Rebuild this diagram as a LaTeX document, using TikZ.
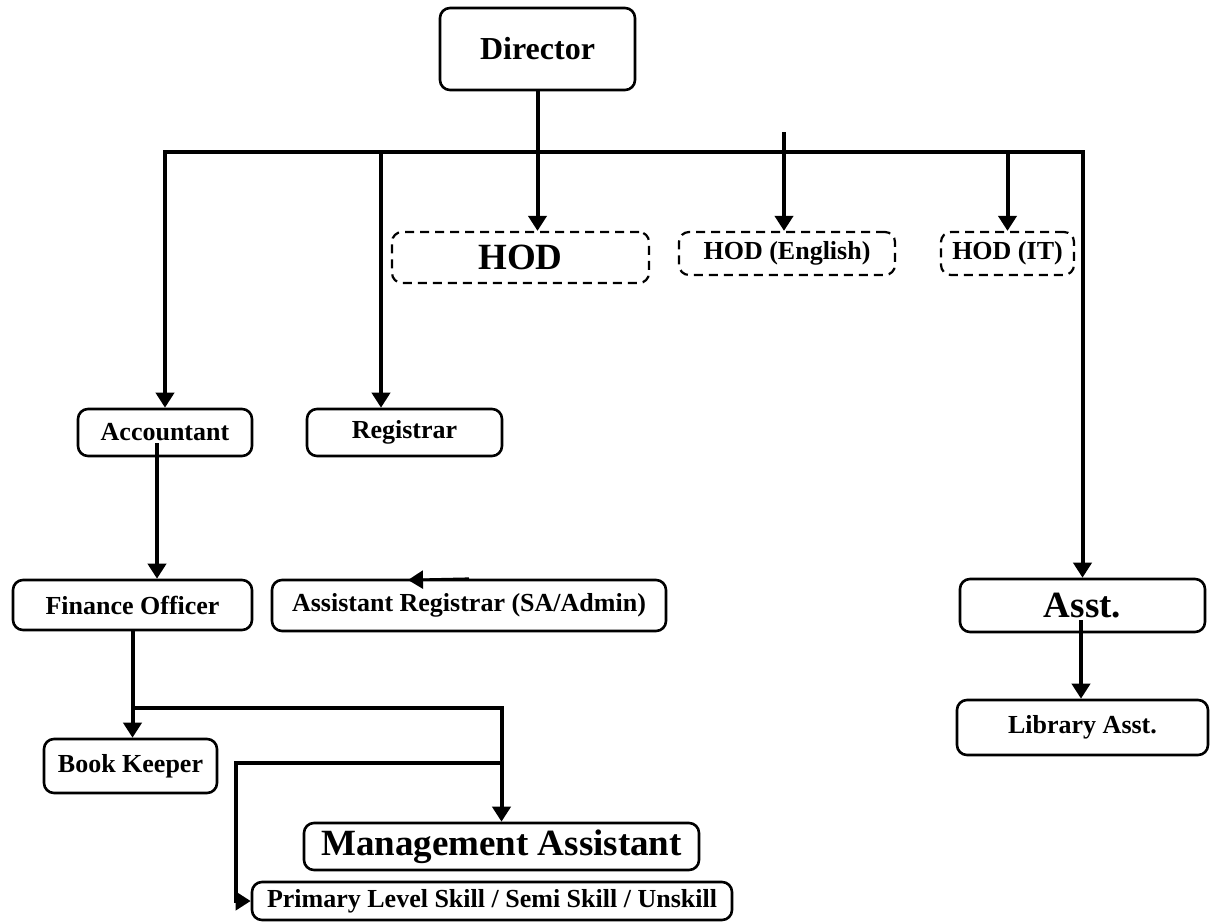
\documentclass[tikz,border=0pt]{standalone}
\usepackage{fontspec}
\setmainfont{Liberation Serif}
\usetikzlibrary{
  positioning,
  calc,
  arrows.meta,
}
\tikzset{
  >={Triangle[length=7.5pt,width=9pt]},
  box/.style={
    rectangle,
    rounded corners=5pt,
    draw,
    line width=1.3pt,
    inner sep=0pt,
    font=\fontsize{13}{15}\selectfont\bfseries,
  },
  dashbox/.style={
    box,
    line width=1.1pt,
    dash pattern=on 4.5pt off 3pt,
  },
  bigtext/.style={font=\fontsize{18.5}{21}\selectfont\bfseries},
  link/.style={line width=2pt},
}

\begin{document}
\begin{tikzpicture}[x=0.5pt,y=-0.5pt]
  \useasboundingbox (0,0) rectangle (1216,922);

  % top
  \node[box, minimum width=97.5pt, minimum height=41pt,
        font=\fontsize{16}{19}\selectfont\bfseries] (director) at (537.5,49) {Director};

  % heads of department
  \node[dashbox, bigtext, minimum width=128.5pt, minimum height=25.5pt] (hod)    at (520.5,257.5) {HOD};
  \node[dashbox, minimum width=108pt,  minimum height=21.5pt]          (hodeng) at (787,253.5)   {HOD (English)};
  \node[dashbox, minimum width=66.5pt, minimum height=21.5pt]          (hodit)  at (1007.5,253.5) {HOD (IT)};

  % administration
  \node[box, minimum width=87pt,   minimum height=23.5pt] (acct) at (165,432.5)   {Accountant};
  \node[box, minimum width=97.5pt, minimum height=23.5pt] (reg)  at (404.5,432.5) {Registrar};
  \node[box, minimum width=119.5pt, minimum height=25pt]  (fin)  at (132.5,605)   {Finance Officer};
  \node[box, minimum width=197pt,  minimum height=25.5pt] (areg) at (469,605.5)   {Assistant Registrar (SA/Admin)};
  \node[box, minimum width=86.5pt, minimum height=27pt]   (book) at (130.5,766)   {Book Keeper};
  \node[box, bigtext, minimum width=197.5pt, minimum height=23.5pt] (mgmt) at (501.5,846.5) {Management Assistant};
  \node[box, minimum width=240pt,  minimum height=19pt]   (prim) at (492,901)     {Primary Level Skill / Semi Skill / Unskill};

  % library
  \node[box, bigtext, minimum width=122.5pt, minimum height=26.5pt] (asst) at (1082.5,605.5) {Asst.};
  \node[box, minimum width=125.5pt, minimum height=27.5pt] (lib)  at (1082.5,727.5) {Library Asst.};

  % connectors
  \coordinate (busL)     at (165,152);
  \coordinate (busR)     at (1082.5,152);
  \coordinate (regtop)   at (381,152);
  \coordinate (engtop)   at (784,132);
  \coordinate (acctmid)  at (157,443);
  \coordinate (asstmid)  at (1081,620);
  \coordinate (split)    at (132.5,708);
  \coordinate (drop)     at (501.5,763);
  \coordinate (bend)     at (236,763);
  \coordinate (aregtip)  at (408,580);

  \draw[link,->] (director.south) -- (director.south |- hod.north);
  \draw[link,<->] (acct.north) -- (busL) -- (busR) -- (asst.north);
  \draw[link,->] (regtop) -- (regtop |- reg.north);
  \draw[link,->] (engtop) -- (engtop |- hodeng.north);
  \draw[link,->] (hodit.north |- busL) -- (hodit.north);
  \draw[link,->] (asstmid) -- (asstmid |- lib.north);
  \draw[link,->] (acctmid) -- (acctmid |- fin.north);
  \draw[link,->] (fin.south) -- (fin.south |- book.north);
  \draw[link,->] (split) -| (mgmt.north);
  \draw[link,->] (drop) -- (bend) |- (prim.west);
  \draw[line width=1.3pt,->] (areg.north) -- (aregtip);
\end{tikzpicture}
\end{document}
